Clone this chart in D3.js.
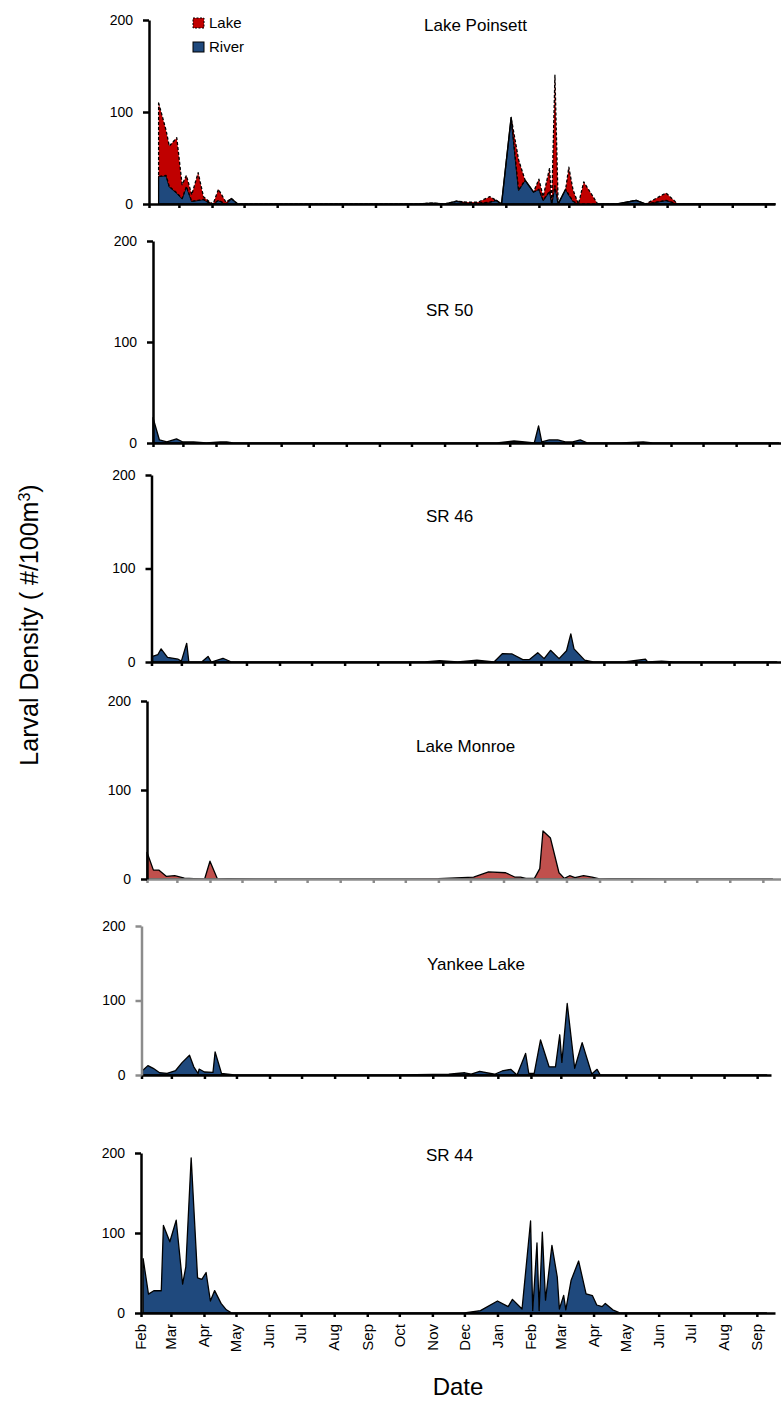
<!DOCTYPE html>
<html>
<head>
<meta charset="utf-8">
<script src="https://cdn.jsdelivr.net/npm/d3@7"></script>
<style>
  body { margin: 0; background: #fff; }
  svg { display: block; font-family: "Liberation Sans", Arial, sans-serif; }
</style>
</head>
<body>
<svg id="chart" width="781" height="1403"></svg>
<script>
// month tick labels (Feb 2009 .. Sep 2010)
const monthLabels = ["Feb","Mar","Apr","May","Jun","Jul","Aug","Sep","Oct","Nov","Dec","Jan",
                     "Feb","Mar","Apr","May","Jun","Jul","Aug","Sep"];
const yTicks = [0, 100, 200];

// Lake Poinsett: river part and lake part (stacked on top)
const poinsettDates = ["2009-02-10","2009-02-17","2009-02-20","2009-02-27","2009-03-04","2009-03-08","2009-03-13",
  "2009-03-19","2009-03-24","2009-03-30","2009-04-02","2009-04-07","2009-04-14","2009-04-19","2009-04-25",
  "2009-05-20","2009-06-20","2009-07-20","2009-08-20","2009-09-20","2009-10-10","2009-10-24","2009-11-05",
  "2009-11-16","2009-11-26","2009-12-06","2009-12-17","2009-12-23","2009-12-28","2010-01-06","2010-01-13",
  "2010-01-19","2010-01-27","2010-02-01","2010-02-05","2010-02-11","2010-02-13","2010-02-16","2010-02-19",
  "2010-02-26","2010-03-01","2010-03-05","2010-03-10","2010-03-15","2010-03-28","2010-04-15","2010-05-03",
  "2010-05-12","2010-05-31","2010-06-11","2010-07-10","2010-08-10","2010-09-10"];
const poinsettRiver = [30,31,19,12,6,19,3, 4,5,1,0,4,0,6,0, 0,0,0,0,0,0,1,0, 3,1,1,2,4,0,94,15,
  26,13,16,4,14,0,20,0, 16,10,3,0,0,0,0,4, 0,4,0,0,0,0];
const poinsettLake = [80,49,44,60,15,12,7, 30,3,1,0,12,2,0,0, 0,0,0,0,0,0,0,0, 0,1,1,6,0,0,0,33,
  0,0,11,4,25,0,120,0, 0,30,12,0,24,0,0,0, 0,8,0,0,0,0];

const sr50Dates = ["2009-02-01","2009-02-07","2009-02-14","2009-02-23","2009-03-01","2009-03-11","2009-03-23",
  "2009-04-05","2009-04-11","2009-04-17","2009-06-01","2009-08-01","2009-10-01","2009-12-20","2010-01-05",
  "2010-01-15","2010-01-24","2010-01-28","2010-01-31","2010-02-07","2010-02-15","2010-02-22","2010-03-01",
  "2010-03-08","2010-03-15","2010-04-15","2010-05-06","2010-05-15","2010-07-01","2010-09-10"];
const sr50Values = [25,3,1,4,1,1,0, 1,1,0,0,0,0,0,2, 1,0,17,1,3,3,1,1, 3,0,0,1,0,0,0];

const sr46Dates = ["2009-02-02","2009-02-07","2009-02-10","2009-02-16","2009-02-26","2009-03-01","2009-03-06",
  "2009-03-08","2009-03-20","2009-03-26","2009-03-29","2009-04-09","2009-04-17","2009-06-01","2009-08-01",
  "2009-10-15","2009-10-29","2009-11-15","2009-12-03","2009-12-19","2009-12-27","2010-01-05","2010-01-15",
  "2010-01-21","2010-01-29","2010-02-04","2010-02-10","2010-02-18","2010-02-25","2010-03-01","2010-03-04",
  "2010-03-14","2010-03-22","2010-04-20","2010-05-10","2010-05-12","2010-05-25","2010-06-05","2010-09-10"];
const sr46Values = [6,8,14,5,3,1,20, 0,0,6,0,4,0,0,0, 0,1.4,0,2,0,9,8.6,2.5, 2.5,10,3.6,12.5,3.6,12,30,14,
  2,0,0,3,0,1,0,0];

const monroeDates = ["2009-02-01","2009-02-07","2009-02-12","2009-02-19","2009-02-27","2009-03-08","2009-03-17",
  "2009-03-27","2009-04-01","2009-04-08","2009-04-18","2009-06-01","2009-08-01","2009-10-01","2009-11-01",
  "2009-12-04","2009-12-18","2010-01-03","2010-01-12","2010-01-17","2010-01-22","2010-01-30","2010-02-04",
  "2010-02-07","2010-02-14","2010-02-22","2010-02-27","2010-03-04","2010-03-09","2010-03-17","2010-03-25",
  "2010-04-01","2010-04-12","2010-04-24","2010-06-01","2010-09-10"];
const monroeValues = [30,10,10,3,3.7,1,0.5, 0,20,0,0.3,0,0,0,0.5, 2,8,7,2,2,0.7,0.7,11.6,
  54,46,7,0.7,3.7,1.5,3.7,2, 0,0.5,0.3,0,0];

const yankeeDates = ["2009-02-02","2009-02-07","2009-02-12","2009-02-18","2009-02-25","2009-03-05","2009-03-11",
  "2009-03-18","2009-03-22","2009-03-26","2009-03-27","2009-04-01","2009-04-09","2009-04-11","2009-04-17",
  "2009-04-23","2009-04-29","2009-06-01","2009-08-01","2009-10-01","2009-11-16","2009-12-01","2009-12-07",
  "2009-12-15","2009-12-29","2010-01-05","2010-01-13","2010-01-19","2010-01-27","2010-01-30","2010-02-04",
  "2010-02-10","2010-02-18","2010-02-24","2010-02-28","2010-03-02","2010-03-07","2010-03-14","2010-03-21",
  "2010-03-30","2010-04-04","2010-04-07","2010-06-01","2010-09-10"];
const yankeeValues = [6,12.6,9,3,2.2,6,16.6, 26.5,11,2,8,4,3.6,31,2, 1,0,0,0,0,1,3,1.3,
  5,1,5.4,7.6,0,29,2,2, 47,11,11,54,17,96,9,43.5, 1.3,7.6,0,0,0];

const sr44Dates = ["2009-02-03","2009-02-08","2009-02-13","2009-02-20","2009-02-22","2009-02-28","2009-03-06",
  "2009-03-12","2009-03-15","2009-03-20","2009-03-26","2009-03-30","2009-04-03","2009-04-07","2009-04-11",
  "2009-04-17","2009-04-22","2009-04-27","2009-06-01","2009-08-01","2009-10-01","2009-12-01","2009-12-16",
  "2010-01-01","2010-01-11","2010-01-15","2010-01-24","2010-02-01","2010-02-03","2010-02-07","2010-02-09",
  "2010-02-12","2010-02-15","2010-02-21","2010-02-26","2010-02-28","2010-03-04","2010-03-06","2010-03-11",
  "2010-03-18","2010-03-25","2010-03-31","2010-04-04","2010-04-09","2010-04-12","2010-04-19","2010-04-26",
  "2010-06-01","2010-09-10"];
const sr44Values = [68,23.6,27.8,27.8,109.5,89,116, 36,57.7,194,44,42,50.6,15,28, 12,4,0,0,0,0,0,3,
  15,8,17,5,115,3,87.5,3, 101,16,84.6,45,5,22,4,41, 65,24,21.6,10,8,12,4,0, 0,0];

const blue = "#1f497d", red = "#c00000", monroeRed = "#c0504d", gray = "#8c8c8c";
const parse = d3.timeParse("%Y-%m-%d");
const start = parse("2009-02-01");
const pxPerMonth = 32.5;

const panels = [
  { title: "Lake Poinsett", x0: 149, x1: 775, top: 20, zero: 204, tx: 424, ty: 31, yCol: "#000", xCol: "#000",
    series: [{ dates: poinsettDates, base: null, values: poinsettRiver, fill: blue, dash: null },
             { dates: poinsettDates, base: poinsettRiver, values: poinsettLake, fill: red, dash: "3,2" }] },
  { title: "SR 50", x0: 153, x1: 781, top: 241, zero: 443, tx: 426, ty: 316, yCol: "#000", xCol: "#000",
    series: [{ dates: sr50Dates, values: sr50Values, fill: blue }] },
  { title: "SR 46", x0: 151.5, x1: 781, top: 475, zero: 662, tx: 426, ty: 522, yCol: "#000", xCol: "#000",
    series: [{ dates: sr46Dates, values: sr46Values, fill: blue }] },
  { title: "Lake Monroe", x0: 147, x1: 781, top: 701, zero: 879, tx: 416, ty: 752, yCol: "#000", xCol: gray,
    series: [{ dates: monroeDates, values: monroeValues, fill: monroeRed }] },
  { title: "Yankee Lake", x0: 141.5, x1: 771, top: 926, zero: 1075, tx: 427, ty: 970, yCol: gray, xCol: "#000",
    series: [{ dates: yankeeDates, values: yankeeValues, fill: blue }] },
  { title: "SR 44", x0: 141, x1: 775, top: 1153, zero: 1313, tx: 426, ty: 1161, yCol: "#000", xCol: "#000",
    series: [{ dates: sr44Dates, values: sr44Values, fill: blue }], labels: true }
];

const svg = d3.select("#chart");

panels.forEach(p => {
  const days = Math.round((p.x1 - p.x0) / pxPerMonth * 30.44);
  const x = d3.scaleTime().domain([start, d3.timeDay.offset(start, days)]).range([p.x0, p.x1]);
  const y = d3.scaleLinear().domain([0, 200]).range([p.zero, p.top]);
  const g = svg.append("g");

  p.series.forEach(s => {
    const rows = s.dates.map((d, i) => ({
      date: parse(d),
      lo: s.base ? s.base[i] : 0,
      hi: (s.base ? s.base[i] : 0) + s.values[i]
    }));
    const area = d3.area()
      .x(d => x(d.date))
      .y0(d => y(d.lo))
      .y1(d => y(d.hi));
    g.append("path")
      .attr("d", area(rows))
      .attr("fill", s.fill)
      .attr("stroke", "#000")
      .attr("stroke-width", 1.3)
      .attr("stroke-linejoin", "round")
      .attr("stroke-dasharray", s.dash || null);
  });

  const xAxis = g.append("g")
    .attr("transform", `translate(0,${p.zero})`)
    .call(d3.axisBottom(x).ticks(d3.timeMonth.every(1)).tickSize(4).tickSizeOuter(0).tickFormat(""));
  xAxis.selectAll("path, line").attr("stroke", p.xCol).attr("stroke-width", 2.5);

  const yAxis = g.append("g")
    .attr("transform", `translate(${p.x0},0)`)
    .call(d3.axisLeft(y).tickValues(yTicks).tickSize(6).tickSizeOuter(0).tickPadding(10));
  yAxis.selectAll("path, line").attr("stroke", p.yCol).attr("stroke-width", 2.5);
  yAxis.selectAll("text").attr("font-size", 14).attr("fill", "#000")
    .attr("font-family", "Liberation Sans, Arial, sans-serif");

  g.append("text")
    .attr("x", p.tx).attr("y", p.ty)
    .attr("font-size", 17)
    .text(p.title);

  if (p.labels) {
    const ticks = x.ticks(d3.timeMonth.every(1));
    g.selectAll("text.month")
      .data(ticks)
      .join("text")
      .attr("class", "month")
      .attr("transform", d => `translate(${x(d)},${p.zero + 11}) rotate(-90)`)
      .attr("text-anchor", "end")
      .attr("dy", "0.35em")
      .attr("font-size", 15)
      .text((d, i) => monthLabels[i]);
  }
});

// legend inside the first panel
const legend = [{ name: "Lake", fill: red, dash: "2,1.5" }, { name: "River", fill: blue, dash: null }];
const lg = svg.append("g").attr("transform", "translate(193,18)");
legend.forEach((l, i) => {
  lg.append("rect")
    .attr("x", 0).attr("y", i * 24)
    .attr("width", 11).attr("height", 10)
    .attr("fill", l.fill).attr("stroke", "#000").attr("stroke-width", 1)
    .attr("stroke-dasharray", l.dash);
  lg.append("text")
    .attr("x", 16).attr("y", i * 24 + 10)
    .attr("font-size", 15)
    .text(l.name);
});

// axis titles
svg.append("text")
  .attr("transform", "translate(38,625) rotate(-90)")
  .attr("text-anchor", "middle")
  .attr("font-size", 25)
  .html('Larval Density ( #/100m<tspan baseline-shift="super" font-size="16">3</tspan>)');

svg.append("text")
  .attr("x", 458).attr("y", 1395)
  .attr("text-anchor", "middle")
  .attr("font-size", 24)
  .text("Date");
</script>
</body>
</html>
